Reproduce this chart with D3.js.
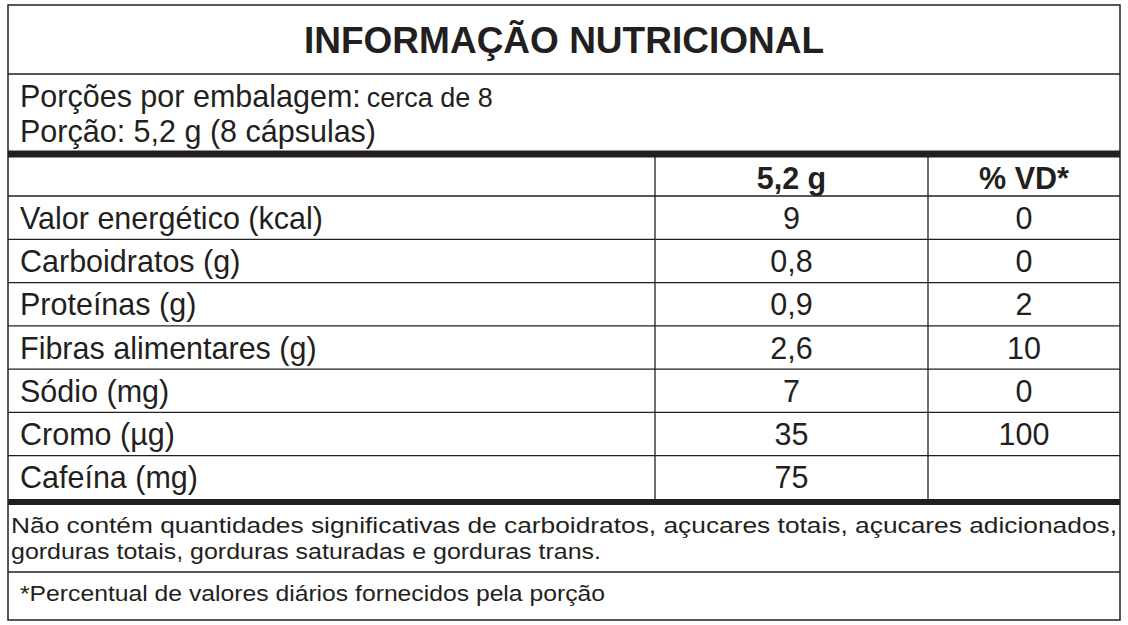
<!DOCTYPE html>
<html lang="pt">
<head>
<meta charset="UTF-8">
<title>Informação Nutricional</title>
<script src="https://d3js.org/d3.v7.min.js"></script>
<style>body{margin:0;background:#fff}</style>
</head>
<body>
<div class="canvas"></div>
<script>
  const nutrients = ['Valor energético (kcal)', 'Carboidratos (g)', 'Proteínas (g)', 'Fibras alimentares (g)', 'Sódio (mg)', 'Cromo (µg)', 'Cafeína (mg)']
  const amounts = ['9', '0,8', '0,9', '2,6', '7', '35', '75']
  const dv = ['0', '0', '2', '10', '0', '100', '']
  const headers = ['5,2 g', '% VD*']

  const svg = d3.select('.canvas').append('svg')
    .attr('width', 1128).attr('height', 625)
    .style('font-family', '"Liberation Sans", Arial, sans-serif')

  const L = 8, R = 1120, T = 5, B = 620
  const c1 = 655, c2 = 928
  const fs = 30.5

  // rows
  const y = d3.scaleBand().domain(nutrients).range([196, 499])

  const line = (x1, y1, x2, y2, w) => svg.append('line')
    .attr('x1', x1).attr('y1', y1).attr('x2', x2).attr('y2', y2)
    .attr('stroke', '#231f20').attr('stroke-width', w || 1.3)

  svg.append('rect').attr('x', L).attr('y', T).attr('width', R - L).attr('height', B - T)
    .attr('fill', 'none').attr('stroke', '#231f20').attr('stroke-width', 1.5)

  svg.append('text').attr('x', (L + R) / 2).attr('y', 53).attr('text-anchor', 'middle')
    .attr('font-size', 37).attr('font-weight', 'bold').attr('fill', '#231f20')
    .text('INFORMAÇÃO NUTRICIONAL')
  line(L, 74, R, 74)

  svg.append('text').attr('x', 20).attr('y', 107).attr('font-size', fs).attr('fill', '#231f20')
    .text('Porções por embalagem:').append('tspan').attr('font-size', 27).attr('dx', 6).text('cerca de 8')
  svg.append('text').attr('x', 20).attr('y', 142).attr('font-size', fs).attr('fill', '#231f20')
    .text('Porção: 5,2 g (8 cápsulas)')

  line(L, 154, R, 154, 7)
  line(c1, 154, c1, 502)
  line(c2, 154, c2, 502)

  headers.forEach((h, i) => {
    const cx = i === 0 ? (c1 + c2) / 2 : (c2 + R) / 2
    svg.append('text').attr('x', cx).attr('y', 189).attr('text-anchor', 'middle')
      .attr('font-size', fs).attr('font-weight', 'bold').attr('fill', '#231f20').text(h)
  })

  const rows = svg.selectAll('g.row').data(nutrients).enter().append('g').attr('class', 'row')
  rows.append('line').attr('x1', L).attr('x2', R)
    .attr('y1', d => y(d)).attr('y2', d => y(d))
    .attr('stroke', '#231f20').attr('stroke-width', 1.3)
  rows.append('text').attr('x', 20).attr('y', d => y(d) + y.bandwidth() / 2 + 11)
    .attr('font-size', fs).attr('fill', '#231f20').text(d => d)
  rows.append('text').attr('x', (c1 + c2) / 2).attr('y', d => y(d) + y.bandwidth() / 2 + 11)
    .attr('text-anchor', 'middle').attr('font-size', fs).attr('fill', '#231f20')
    .text((d, i) => amounts[i])
  rows.append('text').attr('x', (c2 + R) / 2).attr('y', d => y(d) + y.bandwidth() / 2 + 11)
    .attr('text-anchor', 'middle').attr('font-size', fs).attr('fill', '#231f20')
    .text((d, i) => dv[i])

  line(L, 502, R, 502, 6)

  const foot = (x, yy, w, t) => svg.append('text').attr('x', x).attr('y', yy)
    .attr('font-size', 22).attr('fill', '#231f20')
    .attr('textLength', w).attr('lengthAdjust', 'spacingAndGlyphs').text(t)
  foot(11, 533, 1106, 'Não contém quantidades significativas de carboidratos, açucares totais, açucares adicionados,')
  foot(11, 559, 590, 'gorduras totais, gorduras saturadas e gorduras trans.')
  line(L, 572, R, 572)
  foot(20, 601, 585, '*Percentual de valores diários fornecidos pela porção')
</script>
</body>
</html>
